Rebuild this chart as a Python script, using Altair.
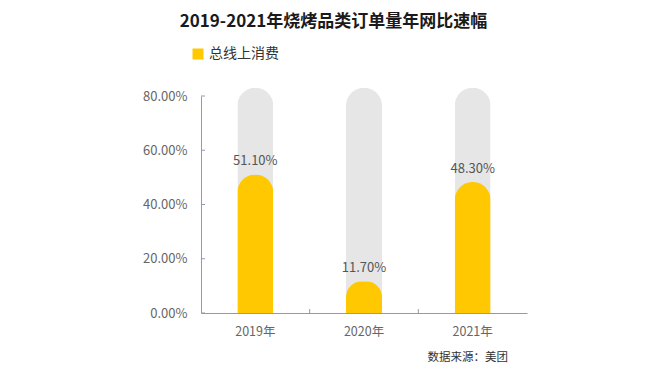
import altair as alt
import pandas as pd

years = ["2019年", "2020年", "2021年"]
values = [51.10, 11.70, 48.30]
series_name = "总线上消费"
y_ticks = [0, 20, 40, 60, 80]
track_top = 83  # background track height in axis units
source_text = "数据来源：美团"
title_text = "2019-2021年烧烤品类订单量年网比速幅"

FONT = "Noto Sans CJK SC"

df = pd.DataFrame({"year": years, "value": values, "track": [track_top] * len(years),
                   "series": [series_name] * len(years),
                   "label": [f"{v:.2f}%" for v in values]})
ticks_df = pd.DataFrame({"t": y_ticks})
xt_df = pd.DataFrame({"year": years[1:]})
src_df = pd.DataFrame({"s": [source_text]})
title_df = pd.DataFrame({"s": [title_text]})

xenc = alt.X("year:N", sort=years, title=None,
             scale=alt.Scale(paddingInner=0, paddingOuter=0),
             axis=alt.Axis(labelAngle=0, ticks=False, domainColor="#9a9a9a",
                           labelColor="#666666", labelFontSize=12.5, labelFont=FONT,
                           labelPadding=12))
yscale = alt.Scale(domain=[0, 80], nice=False)

track = alt.Chart(df).mark_bar(size=36, color="#e6e6e6",
                               cornerRadiusTopLeft=18, cornerRadiusTopRight=18).encode(
    x=xenc,
    y=alt.Y("track:Q", scale=yscale, title=None,
            axis=alt.Axis(values=y_ticks, grid=False, ticks=False,
                          domainColor="#8d9bb6", labelColor="#666666",
                          labelFontSize=13, labelFont=FONT, labelPadding=14,
                          labelExpr="format(datum.value, '.2f') + '%'")),
)

bars = alt.Chart(df).mark_bar(size=36, cornerRadiusTopLeft=18, cornerRadiusTopRight=18).encode(
    x=alt.X("year:N", sort=years),
    y=alt.Y("value:Q", scale=yscale),
    color=alt.Color("series:N", scale=alt.Scale(range=["#FFC800"]),
                    legend=alt.Legend(title=None, orient="none", legendX=-10, legendY=-49,
                                      symbolType="square", symbolSize=121,
                                      symbolStrokeWidth=0, labelFontSize=14,
                                      labelFont=FONT, labelColor="#333333",
                                      padding=0, labelOffset=4)),
)

labels = alt.Chart(df).mark_text(dy=-13, baseline="middle", fontSize=13, font=FONT,
                                 color="#555555").encode(
    x=alt.X("year:N", sort=years),
    y=alt.Y("value:Q", scale=yscale),
    text="label:N",
)

yticks = alt.Chart(ticks_df).mark_rule(color="#8d9bb6").encode(
    y=alt.Y("t:Q", scale=yscale), x=alt.value(0), x2=alt.value(4))

xticks = alt.Chart(xt_df).mark_rule(color="#9a9a9a").encode(
    x=alt.X("year:N", sort=years, bandPosition=0),
    y=alt.value(213), y2=alt.value(217))

source = alt.Chart(src_df).mark_text(align="right", baseline="middle", fontSize=11.5,
                                     font=FONT, color="#333333").encode(
    x=alt.value(307), y=alt.value(262), text="s:N")

title = alt.Chart(title_df).mark_text(align="center", baseline="middle", fontSize=17,
                                      fontWeight="bold", font=FONT, color="#1a1a1a").encode(
    x=alt.value(132.5), y=alt.value(-74), text="s:N")

chart = alt.layer(track, bars, labels, yticks, xticks, source, title).properties(
    width=326, height=217,
    autosize=alt.AutoSizeParams(type="none"),
    padding={"left": 193, "top": 88, "right": 135, "bottom": 56},
).configure(background="white").configure_view(stroke=None)

chart.save("out.html", embed_options={"renderer": "svg", "actions": False})
